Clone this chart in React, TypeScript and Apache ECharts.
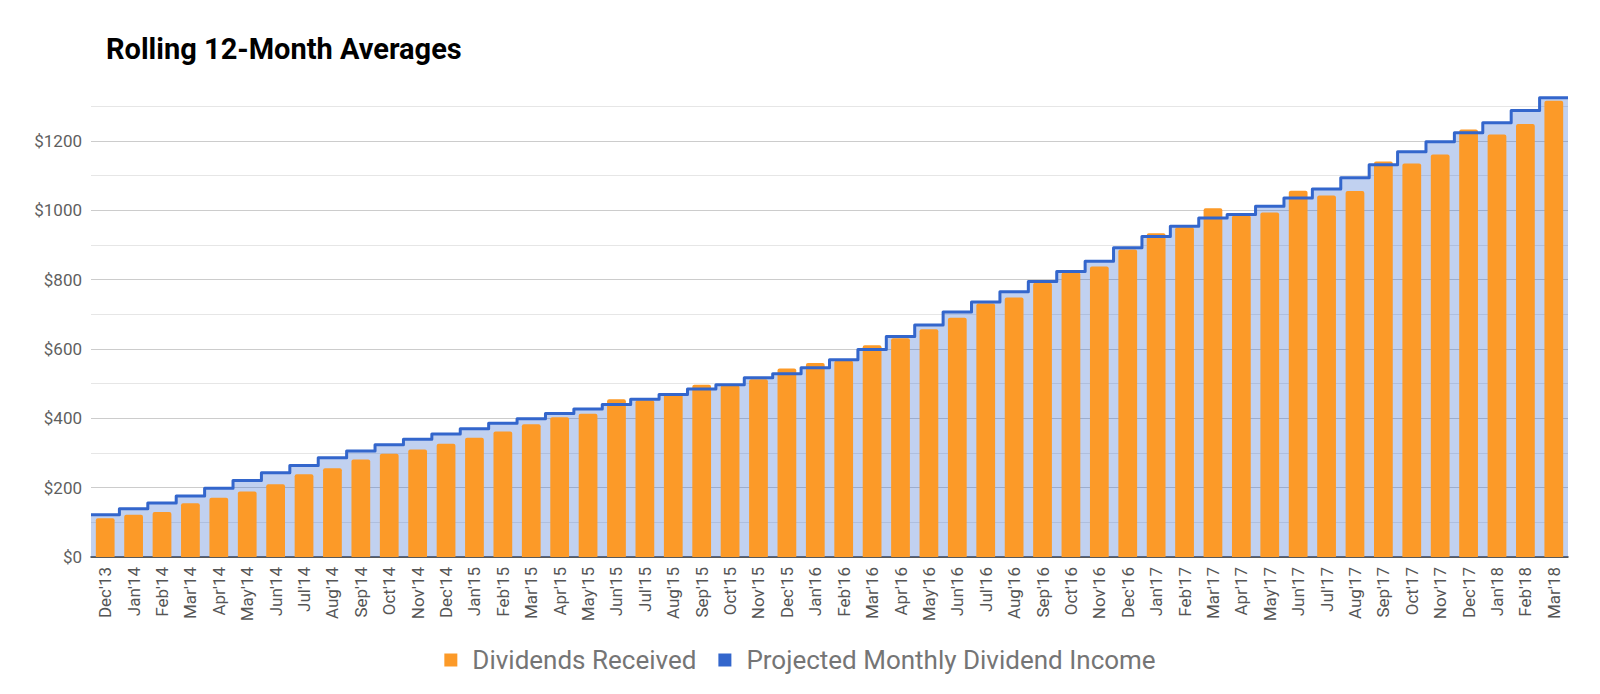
import { useEffect, useRef } from 'react'
import * as echarts from 'echarts'

const months = [
  "Dec'13", "Jan'14", "Feb'14", "Mar'14", "Apr'14", "May'14", "Jun'14", "Jul'14", "Aug'14", "Sep'14", "Oct'14", "Nov'14",
  "Dec'14", "Jan'15", "Feb'15", "Mar'15", "Apr'15", "May'15", "Jun'15", "Jul'15", "Aug'15", "Sep'15", "Oct'15", "Nov'15",
  "Dec'15", "Jan'16", "Feb'16", "Mar'16", "Apr'16", "May'16", "Jun'16", "Jul'16", "Aug'16", "Sep'16", "Oct'16", "Nov'16",
  "Dec'16", "Jan'17", "Feb'17", "Mar'17", "Apr'17", "May'17", "Jun'17", "Jul'17", "Aug'17", "Sep'17", "Oct'17", "Nov'17",
  "Dec'17", "Jan'18", "Feb'18", "Mar'18",
]

const dividendsReceived = [
  112, 122, 130, 155, 171, 189, 210, 239, 256, 281, 298, 310,
  327, 344, 362, 383, 403, 413, 455, 452, 472, 497, 495, 513,
  544, 560, 566, 611, 631, 657, 690, 731, 749, 791, 821, 838,
  887, 934, 951, 1006, 985, 994, 1057, 1043, 1056, 1141, 1135, 1161,
  1233, 1219, 1249, 1316,
]

const projectedIncome = [
  122, 139, 156, 176, 198, 221, 243, 264, 286, 306, 324, 340,
  355, 370, 386, 399, 414, 427, 440, 455, 469, 485, 497, 517,
  529, 546, 569, 599, 636, 669, 707, 736, 765, 795, 824, 853,
  892, 925, 954, 978, 988, 1012, 1036, 1062, 1094, 1132, 1169, 1198,
  1224, 1253, 1288, 1325,
]

const yTicks = [0, 200, 400, 600, 800, 1000, 1200]

const FONT = 'Roboto, "Noto Sans", sans-serif'
const ORANGE = '#fc9a28'
const BLUE = '#3366cc'

export default function App() {
  const chartRef = useRef<HTMLDivElement>(null)

  useEffect(() => {
    if (!chartRef.current) return
    const chart = echarts.init(chartRef.current, null, { renderer: 'svg' })

    // step line spans the whole category width: one extra boundary point
    const edges = [...months, '']
    const stepData = [...projectedIncome, projectedIncome[projectedIncome.length - 1]]
    const seriesName = 'Projected Monthly Dividend Income'

    const option: any = {
      animation: false,
      textStyle: { fontFamily: FONT },
      title: {
        text: 'Rolling 12-Month Averages',
        left: 93,
        top: 21,
        textStyle: { fontFamily: FONT, fontSize: 29, fontWeight: 'bold', color: '#000' },
      },
      legend: {
        data: [
          { name: 'Dividends Received', icon: 'rect' },
          { name: seriesName, icon: 'rect' },
        ],
        left: 'center',
        top: 634,
        itemWidth: 13,
        itemHeight: 13,
        itemGap: 22,
        textStyle: { fontFamily: FONT, fontSize: 26, color: '#757575', padding: [0, 0, 0, 10] },
      },
      grid: { left: 83, right: 24, top: 88, bottom: 129 },
      xAxis: [
        {
          type: 'category',
          data: months,
          axisTick: { show: false },
          axisLine: { lineStyle: { color: '#333', width: 1.5 } },
          axisLabel: { interval: 0, rotate: 90, fontSize: 17, color: '#555', margin: 10, fontFamily: FONT },
        },
        {
          type: 'category',
          data: edges,
          boundaryGap: false,
          show: false,
          position: 'bottom',
        },
      ],
      yAxis: {
        type: 'value',
        min: 0,
        max: 1330,
        interval: 100,
        axisLine: { show: false },
        axisTick: { show: false },
        axisLabel: {
          fontSize: 17,
          color: '#5f5f5f',
          margin: 9,
          fontFamily: FONT,
          formatter: (v: number) => (yTicks.includes(v) ? '$' + v : ''),
        },
        splitLine: {
          showMaxLine: false,
          lineStyle: { color: ['#cccccc', '#e6e6e6'], width: 1 },
        },
      },
      series: [
        {
          name: seriesName,
          type: 'line',
          xAxisIndex: 1,
          step: 'end',
          data: stepData,
          symbol: 'none',
          z: 1,
          lineStyle: { width: 0 },
          itemStyle: { color: BLUE },
          areaStyle: { color: BLUE, opacity: 0.3 },
        },
        {
          name: 'Dividends Received',
          type: 'bar',
          data: dividendsReceived,
          barCategoryGap: '34%',
          z: 2,
          itemStyle: { color: ORANGE, borderRadius: [2, 2, 0, 0] },
        },
        {
          name: seriesName,
          type: 'line',
          xAxisIndex: 1,
          step: 'end',
          data: stepData,
          symbol: 'none',
          z: 3,
          lineStyle: { width: 3, color: BLUE, join: 'round' },
          itemStyle: { color: BLUE },
        },
      ],
    }

    chart.setOption(option)
    const onResize = () => chart.resize()
    window.addEventListener('resize', onResize)
    return () => {
      window.removeEventListener('resize', onResize)
      chart.dispose()
    }
  }, [])

  return <div ref={chartRef} style={{ width: '100%', height: '678px' }} />
}
